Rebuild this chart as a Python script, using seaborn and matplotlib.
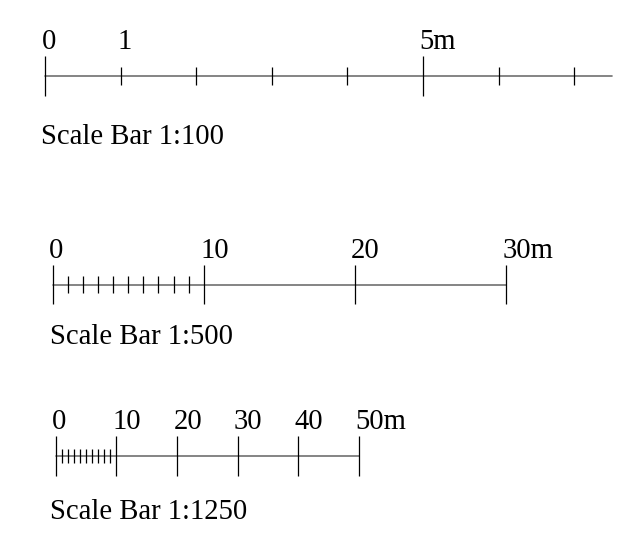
import matplotlib
matplotlib.use("Agg")
import matplotlib.pyplot as plt
import seaborn as sns

# scale bar data (metres)
scale_names = ["1:100", "1:500", "1:1250"]

bar1_major = [0, 5]
bar1_minor = [1, 2, 3, 4, 6, 7]
bar1_labels = [0, 1, 5]
bar1_length = 7.5

bar2_major = [0, 10, 20, 30]
bar2_minor = [1, 2, 3, 4, 5, 6, 7, 8, 9]
bar2_labels = [0, 10, 20, 30]
bar2_length = 30

bar3_major = [0, 10, 20, 30, 40, 50]
bar3_minor = [1, 2, 3, 4, 5, 6, 7, 8, 9]
bar3_labels = [0, 10, 20, 30, 40, 50]
bar3_length = 50

bars = [
    (bar1_major, bar1_minor, bar1_labels, bar1_length),
    (bar2_major, bar2_minor, bar2_labels, bar2_length),
    (bar3_major, bar3_minor, bar3_labels, bar3_length),
]

# layout in pixels (figure is 635 x 540)
W, H = 635, 540
origin_px = [45, 52.7, 55.7]
px_per_m = [75.6, 15.1, 6.06]
line_y = [75.8, 284.5, 456]
major_half = [20, 19.7, 19.7]
minor_half = [9.2, 8.7, 7]
caption_x = [40.5, 50.3, 50.3]
caption_y = [144.3, 344.3, 519.3]

sns.set_theme(style="white")
plt.rcParams["font.family"] = ["Liberation Serif", "DejaVu Serif"]
FS = 20.6

fig = plt.figure(figsize=(W / 100, H / 100), dpi=100)

for i, (major, minor, labels, length) in enumerate(bars):
    ax = fig.add_axes([0, 0, 1, 1])
    ax.set_xlim(-origin_px[i] / px_per_m[i], (W - origin_px[i]) / px_per_m[i])
    ax.set_ylim(H, 0)
    ax.axis("off")
    ax.patch.set_alpha(0)

    y0 = line_y[i]
    sns.lineplot(x=[0, length], y=[y0, y0], ax=ax, color="#707070",
                 linewidth=1.2, estimator=None)
    ax.vlines(major, y0 - major_half[i], y0 + major_half[i],
              color="black", linewidth=0.9)
    ax.vlines(minor, y0 - minor_half[i], y0 + minor_half[i],
              color="black", linewidth=0.9)

    for j, v in enumerate(labels):
        txt = f"{v}m" if j == len(labels) - 1 else f"{v}"
        ax.annotate(txt, xy=(v, y0 - 27), xytext=(-2.5, 0),
                    textcoords="offset points", ha="left", va="baseline",
                    fontsize=FS, color="black")

    ax.annotate(f"Scale Bar {scale_names[i]}",
                xy=(caption_x[i] / W, 1 - caption_y[i] / H),
                xycoords="figure fraction", ha="left", va="baseline",
                fontsize=FS, color="black")

fig.savefig("out.png", dpi=100)
